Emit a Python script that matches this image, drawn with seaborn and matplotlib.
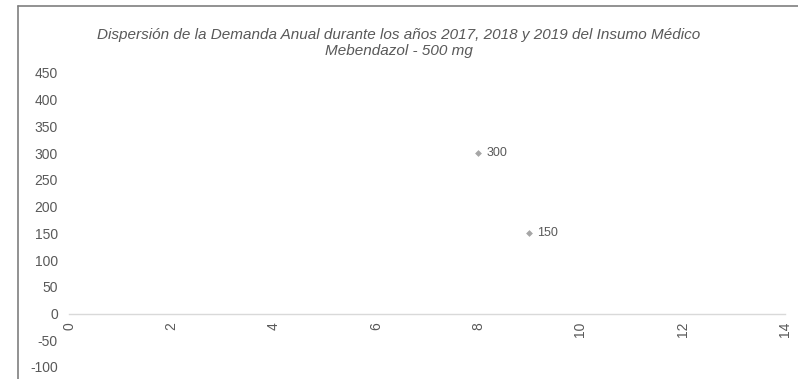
import pandas as pd
import matplotlib.pyplot as plt
import seaborn as sns
from matplotlib.lines import Line2D

# Datos: (período, demanda)
periodos = [8, 9]
demanda = [300, 150]
etiquetas = ['300', '150']

titulo = ('Dispersión de la Demanda Anual durante los años 2017, 2018 y 2019 del Insumo Médico\n'
          'Mebendazol - 500 mg')

df = pd.DataFrame({'periodo': periodos, 'demanda': demanda, 'etiqueta': etiquetas})

sns.set_style('white')
plt.rcParams['font.family'] = ['Liberation Sans', 'DejaVu Sans']
plt.rcParams['axes.unicode_minus'] = False

fig = plt.figure(figsize=(7.98, 3.79), dpi=100)
ax = fig.add_axes([0.0865, 0.0317, 0.897, 0.7757])

sns.scatterplot(data=df, x='periodo', y='demanda', ax=ax, marker='D', s=12,
                color='#a6a6a6', edgecolor='#a6a6a6', linewidth=0)

# Etiquetas de datos a la derecha de cada punto
for _, fila in df.iterrows():
    ax.annotate(fila['etiqueta'], (fila['periodo'], fila['demanda']),
                xytext=(6, 0), textcoords='offset points', va='center', ha='left',
                fontsize=9, color='#595959')

ax.set_xlim(0, 14)
ax.set_ylim(-100, 450)
ax.set_xticks(range(0, 15, 2))
ax.set_yticks(range(-100, 451, 50))
ax.set_xlabel('')
ax.set_ylabel('')

# Eje X cruzando en y = 0, estilo Excel
ax.spines['bottom'].set_position(('data', 0))
ax.spines['bottom'].set_color('#d9d9d9')
ax.spines['bottom'].set_linewidth(1)
for lado in ['top', 'right', 'left']:
    ax.spines[lado].set_visible(False)

ax.tick_params(axis='x', length=0, pad=6, labelsize=10, labelcolor='#595959', labelrotation=90)
ax.tick_params(axis='y', length=0, pad=8, labelsize=10, labelcolor='#595959')

fig.suptitle(titulo, x=0.5, y=0.925, va='top', fontsize=11, style='italic', color='#595959',
             linespacing=1.1)

# Borde del área del gráfico (arriba e izquierda)
fig.add_artist(Line2D([0.0226, 0.0226], [0, 0.984], transform=fig.transFigure,
                      color='#7f7f7f', linewidth=1.2))
fig.add_artist(Line2D([0.0226, 1.0], [0.984, 0.984], transform=fig.transFigure,
                      color='#7f7f7f', linewidth=1.2))

fig.savefig('out.png', dpi=100)
